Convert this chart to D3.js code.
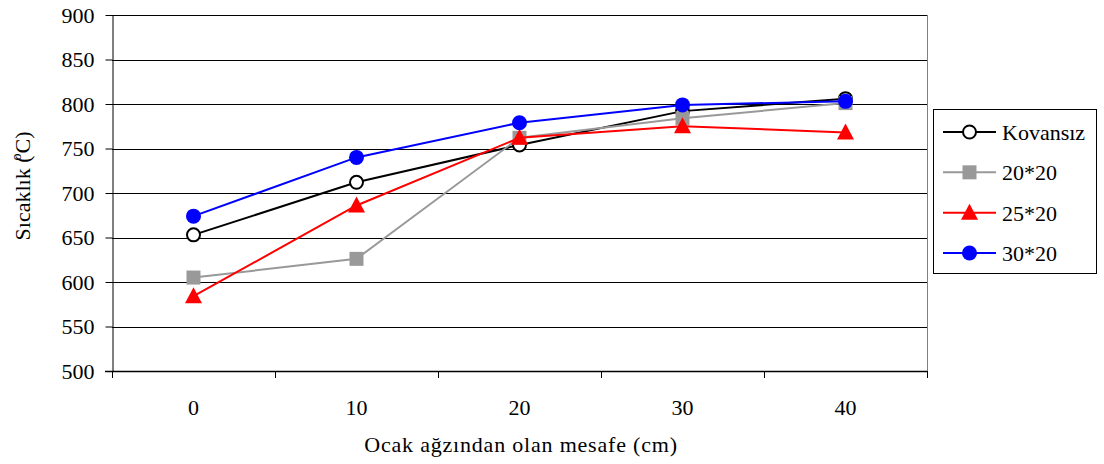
<!DOCTYPE html>
<html>
<head>
<meta charset="utf-8">
<script src="https://cdn.jsdelivr.net/npm/d3@7"></script>
<style>
  html, body { margin: 0; padding: 0; background: #fff; }
</style>
</head>
<body>
<svg id="chart" width="1104" height="464"></svg>
<script>
// Distance from the furnace mouth (cm)
const categories = [0, 10, 20, 30, 40];
const yTicks = [500, 550, 600, 650, 700, 750, 800, 850, 900];

// Temperature (°C) for each configuration
const kovansiz = [653, 712, 754, 792, 806];
const s20x20   = [605, 626, 762, 784, 801];
const s25x20   = [584, 686, 762, 775, 768];
const s30x20   = [674, 740, 779, 799, 803];

const seriesNames = ["Kovansız", "20*20", "25*20", "30*20"];
const seriesValues = [kovansiz, s20x20, s25x20, s30x20];
const seriesStyle = [
  { color: "#000000", marker: "openCircle" },
  { color: "#999999", marker: "square" },
  { color: "#ff0000", marker: "triangle" },
  { color: "#0000ff", marker: "circle" }
];

const FONT = "'Liberation Serif', 'Times New Roman', Times, serif";
const FS = 22;

const svg = d3.select("#chart");
const plot = { left: 112, right: 927, top: 15, bottom: 371 };

const x = d3.scaleBand().domain(categories).range([plot.left, plot.right]).padding(0);
const y = d3.scaleLinear().domain([500, 900]).range([plot.bottom, plot.top]);
const cx = d => x(d) + x.bandwidth() / 2;

// Horizontal gridlines
svg.append("g").selectAll("line").data(yTicks.filter(v => v > 500)).join("line")
  .attr("x1", plot.left).attr("x2", plot.right)
  .attr("y1", d => Math.round(y(d)) + 0.5).attr("y2", d => Math.round(y(d)) + 0.5)
  .attr("stroke", "#000").attr("stroke-width", 1);

// Right border of plot area
svg.append("line")
  .attr("x1", plot.right + 0.5).attr("x2", plot.right + 0.5)
  .attr("y1", plot.top).attr("y2", plot.bottom)
  .attr("stroke", "#808080").attr("stroke-width", 1);

// Y axis
const yAxis = svg.append("g")
  .attr("transform", `translate(${plot.left + 0.5},0)`)
  .call(d3.axisLeft(y).tickValues(yTicks).tickSize(7).tickPadding(11).tickSizeOuter(0));
yAxis.select(".domain").attr("stroke", "#000");
yAxis.selectAll(".tick line").attr("stroke", "#000");
yAxis.selectAll(".tick text").attr("fill", "#000")
  .style("font-family", FONT).style("font-size", FS + "px");

// X axis line
svg.append("line")
  .attr("x1", plot.left - 7).attr("x2", plot.right)
  .attr("y1", plot.bottom + 0.5).attr("y2", plot.bottom + 0.5)
  .attr("stroke", "#000").attr("stroke-width", 1.5);

// X tick marks at category boundaries
const boundaries = d3.range(categories.length + 1).map(i => plot.left + i * x.step());
svg.append("g").selectAll("line").data(boundaries).join("line")
  .attr("x1", d => Math.round(d) + 0.5).attr("x2", d => Math.round(d) + 0.5)
  .attr("y1", plot.bottom).attr("y2", plot.bottom + 7)
  .attr("stroke", "#000");

// X tick labels
const xAxis = svg.append("g")
  .attr("transform", `translate(0,${plot.bottom})`)
  .call(d3.axisBottom(x).tickSize(0).tickPadding(28));
xAxis.select(".domain").remove();
xAxis.selectAll(".tick text").attr("fill", "#000")
  .style("font-family", FONT).style("font-size", FS + "px");

// Axis titles
svg.append("text")
  .attr("x", 521).attr("y", 452)
  .attr("text-anchor", "middle")
  .style("font-family", FONT).style("font-size", FS + "px")
  .style("letter-spacing", "0.8px")
  .text("Ocak ağzından olan mesafe (cm)");

const yTitle = svg.append("text")
  .attr("transform", "translate(30,186) rotate(-90)")
  .attr("text-anchor", "middle")
  .style("font-family", FONT).style("font-size", FS + "px");
yTitle.append("tspan").text("Sıcaklık (");
yTitle.append("tspan").style("font-size", "14px").attr("dy", -9).attr("dx", -5).text("o");
yTitle.append("tspan").attr("dy", 9).text("C)");

// Marker drawing
function drawMarker(g, style, px, py) {
  if (style.marker === "openCircle") {
    g.append("circle").attr("cx", px).attr("cy", py).attr("r", 6.5)
      .attr("fill", "#fff").attr("stroke", style.color).attr("stroke-width", 2);
  } else if (style.marker === "circle") {
    g.append("circle").attr("cx", px).attr("cy", py).attr("r", 7.5)
      .attr("fill", style.color);
  } else if (style.marker === "square") {
    g.append("rect").attr("x", px - 7).attr("y", py - 7).attr("width", 14).attr("height", 14)
      .attr("fill", style.color);
  } else if (style.marker === "triangle") {
    g.append("path")
      .attr("d", `M${px},${py - 9}L${px + 8.5},${py + 7}L${px - 8.5},${py + 7}Z`)
      .attr("fill", style.color);
  }
}

// Series lines and markers
const line = d3.line().x((d, i) => cx(categories[i])).y(d => y(d));
seriesValues.forEach((vals, si) => {
  const st = seriesStyle[si];
  const g = svg.append("g");
  g.append("path").datum(vals).attr("d", line)
    .attr("fill", "none").attr("stroke", st.color).attr("stroke-width", 2);
  vals.forEach((v, i) => drawMarker(g, st, cx(categories[i]), y(v)));
});

// Legend
const legend = svg.append("g");
legend.append("rect").attr("x", 933.5).attr("y", 109.5).attr("width", 163).attr("height", 164)
  .attr("fill", "#fff").attr("stroke", "#000").attr("stroke-width", 1);
const legendY = d3.scalePoint().domain(seriesNames).range([132, 253]);
seriesNames.forEach((name, si) => {
  const st = seriesStyle[si];
  const ly = legendY(name);
  legend.append("line").attr("x1", 943).attr("x2", 996).attr("y1", ly).attr("y2", ly)
    .attr("stroke", st.color).attr("stroke-width", 2);
  drawMarker(legend, st, 969.5, ly);
  legend.append("text").attr("x", 1002).attr("y", ly + 8)
    .style("font-family", FONT).style("font-size", FS + "px")
    .text(name);
});
</script>
</body>
</html>
